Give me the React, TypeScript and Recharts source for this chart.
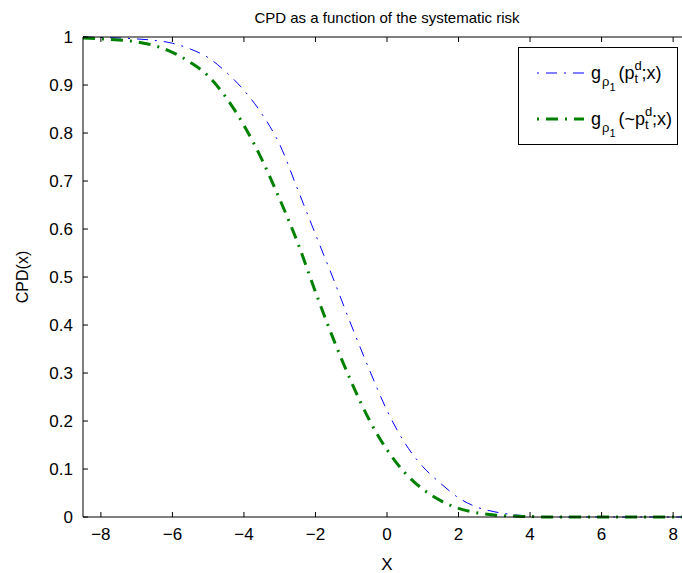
import React from 'react';
import { LineChart, Line, XAxis, YAxis, Legend } from 'recharts';

const xValues = [-8.5, -8, -7.5, -7, -6.5, -6, -5.5, -5, -4.5, -4, -3.5, -3, -2.5, -2, -1.5, -1, -0.5, 0, 0.5, 1, 1.5, 2, 2.5, 3, 3.5, 4, 4.5, 5, 5.5, 6, 6.5, 7, 7.5, 8, 8.5];
const blueValues = [1.0, 0.999, 0.998, 0.996, 0.993, 0.987, 0.975, 0.957, 0.927, 0.889, 0.840, 0.776, 0.683, 0.589, 0.496, 0.400, 0.308, 0.222, 0.154, 0.105, 0.070, 0.040, 0.021, 0.011, 0.005, 0.002, 0.001, 0, 0, 0, 0, 0, 0, 0, 0];
const greenValues = [0.998, 0.996, 0.994, 0.990, 0.982, 0.968, 0.947, 0.919, 0.874, 0.816, 0.745, 0.662, 0.572, 0.469, 0.371, 0.282, 0.203, 0.140, 0.092, 0.058, 0.034, 0.018, 0.009, 0.004, 0.002, 0.001, 0, 0, 0, 0, 0, 0, 0, 0, 0];
const xTicks = [-8, -6, -4, -2, 0, 2, 4, 6, 8];
const yTicks = [0, 0.1, 0.2, 0.3, 0.4, 0.5, 0.6, 0.7, 0.8, 0.9, 1];
const title = 'CPD as a function of the systematic risk';
const xLabel = 'X';
const yLabel = 'CPD(x)';

const data = xValues.map((x, i) => ({ x, blue: blueValues[i], green: greenValues[i] }));

const FONT = '"Liberation Sans", Arial, Helvetica, sans-serif';
const BLUE_DASH = '11 7 2 7';
const GREEN_DASH = '12 7 2 7';
const TICK_LEN = 5;
const TICK_COLOR = '#000';

const fmtX = (v: number) => String(v).replace('-', '\u2212');

const BottomTick = (props: any) => {
  const { x, y, payload } = props;
  return (
    <g>
      <line x1={x} y1={y} x2={x} y2={y - TICK_LEN} stroke={TICK_COLOR} strokeWidth={1} />
      <text x={x} y={y + 23} textAnchor="middle" fontSize={17} fontFamily={FONT} fill="#000">
        {fmtX(payload.value)}
      </text>
    </g>
  );
};

const TopTick = (props: any) => {
  const { x, y } = props;
  return <line x1={x} y1={y} x2={x} y2={y + TICK_LEN} stroke={TICK_COLOR} strokeWidth={1} />;
};

const LeftTick = (props: any) => {
  const { x, y, payload } = props;
  return (
    <g>
      <line x1={x} y1={y} x2={x + TICK_LEN} y2={y} stroke={TICK_COLOR} strokeWidth={1} />
      <text x={x - 10} y={y + 6} textAnchor="end" fontSize={17} fontFamily={FONT} fill="#000">
        {String(payload.value)}
      </text>
    </g>
  );
};

const RightTick = (props: any) => {
  const { x, y } = props;
  return <line x1={x} y1={y} x2={x - TICK_LEN} y2={y} stroke={TICK_COLOR} strokeWidth={1} />;
};

const Formula = ({ tilde }: { tilde: boolean }) => (
  <span style={{ display: 'inline-flex', alignItems: 'baseline', fontSize: 18, whiteSpace: 'nowrap' }}>
    <span>g</span>
    <span style={{ fontSize: 13, position: 'relative', top: 7, marginLeft: 1 }}>ρ</span>
    <span style={{ fontSize: 11, position: 'relative', top: 12 }}>1</span>
    <span style={{ marginLeft: 3 }}>({tilde ? '~' : ''}p</span>
    <span style={{ fontSize: 13, position: 'relative', top: -9, display: 'inline-block', width: 7 }}>d</span>
    <span style={{ fontSize: 13, position: 'relative', top: 4, display: 'inline-block', width: 5, marginLeft: -7 }}>t</span>
    <span style={{ marginLeft: 2 }}>;x)</span>
  </span>
);

const LegendBox = () => {
  const rows = [
    { color: '#0000ff', dash: BLUE_DASH, width: 1, tilde: false },
    { color: '#008000', dash: GREEN_DASH, width: 3, tilde: true },
  ];
  return (
    <div style={{ width: 160, height: 98, boxSizing: 'border-box', border: '1.5px solid #000', background: '#fff', fontFamily: FONT, color: '#000', position: 'relative' }}>
      {rows.map((r, i) => (
        <div key={i} style={{ position: 'absolute', left: 11, top: i === 0 ? 11 : 57, height: 28, display: 'flex', alignItems: 'center' }}>
          <svg width={54} height={10} style={{ display: 'block' }}>
            <line x1={0} y1={5} x2={54} y2={5} stroke={r.color} strokeWidth={r.width} strokeDasharray={r.dash} strokeDashoffset={-16} />
          </svg>
          <span style={{ marginLeft: 7 }}>
            <Formula tilde={r.tilde} />
          </span>
        </div>
      ))}
    </div>
  );
};

const YLabel = (props: any) => {
  const vb = props.viewBox || {};
  const cx = vb.x + 22;
  const cy = vb.y + vb.height / 2;
  return (
    <text x={cx} y={cy} transform={`rotate(-90 ${cx} ${cy})`} textAnchor="middle" dominantBaseline="central" fontSize={16} fontFamily={FONT} fill="#000">
      {yLabel}
    </text>
  );
};

export default function App() {
  return (
    <div style={{ position: 'absolute', left: 0, top: 0, width: 682, height: 573, overflow: 'hidden', background: '#fff', fontFamily: FONT }}>
      <LineChart width={700} height={573} data={data} margin={{ top: 36, right: 8, bottom: 0, left: 0 }}>
        <XAxis
          xAxisId="bottom"
          dataKey="x"
          type="number"
          domain={[-8.5, 8.5]}
          ticks={xTicks}
          allowDataOverflow
          height={56}
          stroke="#000"
          tickLine={false}
          tickSize={0}
          tickMargin={0}
          tick={<BottomTick />}
          label={{ value: xLabel, position: 'insideBottom', offset: 3, fill: '#000', fontSize: 17, fontFamily: FONT }}
        />
        <XAxis
          xAxisId="top"
          orientation="top"
          dataKey="x"
          type="number"
          domain={[-8.5, 8.5]}
          ticks={xTicks}
          allowDataOverflow
          height={1}
          stroke="#000"
          tickLine={false}
          tickSize={0}
          tickMargin={0}
          tick={<TopTick />}
          label={{ value: title, position: 'top', offset: 13, fill: '#000', fontSize: 15, fontFamily: FONT }}
        />
        <YAxis
          yAxisId="left"
          type="number"
          domain={[0, 1]}
          ticks={yTicks}
          width={83}
          stroke="#000"
          tickLine={false}
          tickSize={0}
          tickMargin={0}
          tick={<LeftTick />}
          label={<YLabel />}
        />
        <YAxis
          yAxisId="right"
          orientation="right"
          type="number"
          domain={[0, 1]}
          ticks={yTicks}
          width={1}
          stroke="#000"
          tickLine={false}
          tickSize={0}
          tickMargin={0}
          tick={<RightTick />}
        />
        <Legend
          layout="horizontal"
          verticalAlign="middle"
          align="center"
          content={<LegendBox />}
          wrapperStyle={{ left: 518, top: 47, width: 160, height: 98 }}
        />
        <Line
          xAxisId="bottom"
          yAxisId="left"
          type="monotone"
          dataKey="blue"
          stroke="#0000ff"
          strokeWidth={1}
          strokeDasharray={BLUE_DASH}
          dot={false}
          isAnimationActive={false}
        />
        <Line
          xAxisId="bottom"
          yAxisId="left"
          type="monotone"
          dataKey="green"
          stroke="#008000"
          strokeWidth={3}
          strokeDasharray={GREEN_DASH}
          dot={false}
          isAnimationActive={false}
        />
      </LineChart>
    </div>
  );
}
